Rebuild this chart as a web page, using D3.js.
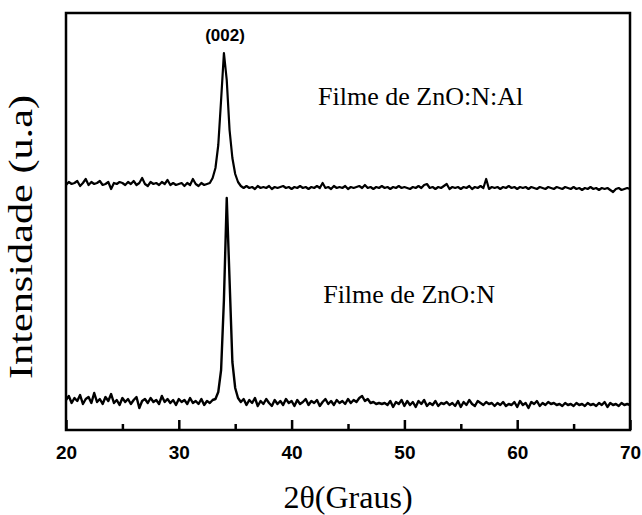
<!DOCTYPE html>
<html>
<head>
  <meta charset="utf-8">
  <style>
    body { margin: 0; background: #fff; }
    svg { display: block; }
  </style>
</head>
<body>
<svg id="xrd" width="642" height="515"></svg>
<script src="https://d3js.org/d3.v7.min.js"></script>
<script>
// scan: 20 -> 70 deg, step 0.25
var thetaStart = 20, thetaStep = 0.25;

// ZnO:N:Al film (top trace, already offset)
var znoNAl = [
  245,248,246,247,249,244,247,251,245,248,246,247,249,245,246,248,241,247,246,248,
  247,245,248,246,249,245,247,252,246,244,248,246,247,245,248,246,250,245,247,245,
  246,247,244,247,245,251,246,244,247,245,246,247,252,262,285,330,377,350,300,272,
  256,248,244,242,244,242,243,241,244,242,243,242,244,241,243,242,243,244,242,243,
  241,243,242,244,242,243,241,243,242,244,242,247,242,243,241,244,242,243,242,244,
  241,243,242,243,244,242,245,242,243,241,243,242,244,242,243,241,243,242,244,242,
  243,242,241,243,242,244,242,245,246,242,243,241,243,242,244,246,241,243,242,243,
  241,243,242,244,241,243,242,244,242,251,241,243,242,243,241,243,242,244,242,243,
  241,243,242,243,241,243,242,241,243,242,241,243,242,241,243,242,241,243,242,241,
  243,241,242,240,242,241,243,241,242,240,242,241,242,240,238,241,242,240,241,242,
  241
];

// ZnO:N film (bottom trace)
var znoN = [
  30,34,27,32,29,35,26,31,33,27,37,28,31,26,33,29,36,27,30,25,
  32,28,31,26,30,33,22,29,31,27,32,28,30,26,34,28,31,27,30,25,
  31,28,30,26,32,27,29,26,31,25,29,27,30,31,38,60,130,232,150,68,
  42,32,28,31,25,30,27,32,24,29,26,31,27,24,30,26,29,25,31,27,
  29,24,30,26,28,31,25,29,27,30,24,28,31,26,29,25,30,27,29,26,
  31,27,30,28,32,34,29,31,27,28,26,27,26,27,25,29,23,28,26,30,
  24,29,25,28,23,29,26,30,24,27,25,29,24,27,26,28,25,27,24,29,
  23,28,25,30,26,24,29,27,25,28,26,27,24,27,25,28,24,26,25,28,
  23,29,25,27,22,28,26,29,24,27,25,28,26,27,25,26,24,27,25,26,
  24,27,25,26,24,27,25,26,24,27,25,28,23,27,25,26,24,27,25,26,
  25
];

var majorTicks = [20, 30, 40, 50, 60, 70];
var minorTicks = [25, 35, 45, 55, 65];

var peakLabel = {text: "(002)", theta: 34.1, value: 389};
var filmLabels = [
  {text: "Filme de ZnO:N:Al", theta: 42.35, value: 325},
  {text: "Filme de ZnO:N", theta: 42.8, value: 127}
];

var margin = {top: 13, right: 12, bottom: 85, left: 66},
    width = 642 - margin.left - margin.right,
    height = 515 - margin.top - margin.bottom;

var svg = d3.select("#xrd");
var g = svg.append("g")
    .attr("transform", "translate(" + margin.left + "," + margin.top + ")");

var x = d3.scaleLinear().domain([20, 70]).range([0, width]);
var y = d3.scaleLinear().domain([0, 417]).range([height, 0]);

function toPoints(arr) {
  return arr.map(function(v, i) { return [thetaStart + i * thetaStep, v]; });
}

var line = d3.line()
    .x(function(d) { return x(d[0]); })
    .y(function(d) { return y(d[1]); });

g.selectAll(".trace")
    .data([znoN, znoNAl])
  .enter().append("path")
    .attr("class", "trace")
    .attr("d", function(d) { return line(toPoints(d)); })
    .attr("fill", "none")
    .attr("stroke", "#000")
    .attr("stroke-width", function(d, i) { return i == 0 ? 2.4 : 2.2; })
    .attr("stroke-linejoin", "round");

// ticks point inward
var xMajor = d3.axisBottom(x).tickValues(majorTicks).tickSize(-10).tickPadding(16)
    .tickFormat(d3.format("d"));
var xMinor = d3.axisBottom(x).tickValues(minorTicks).tickSize(-6).tickFormat("");

g.append("g").attr("transform", "translate(0," + height + ")").call(xMinor)
  .call(function(s) { s.select(".domain").remove(); })
  .selectAll("line").attr("stroke-width", 2.5);

var ax = g.append("g").attr("transform", "translate(0," + height + ")").call(xMajor);
ax.select(".domain").remove();
ax.selectAll("line").attr("stroke-width", 2.5);
ax.selectAll("text")
    .style("font-family", "'Liberation Sans', Arial, sans-serif")
    .style("font-weight", "bold")
    .style("font-size", "19px")
    .attr("fill", "#000");

// frame
g.append("rect")
    .attr("width", width)
    .attr("height", height)
    .attr("fill", "none")
    .attr("stroke", "#000")
    .attr("stroke-width", 2.5);

g.append("text")
    .attr("x", x(peakLabel.theta))
    .attr("y", y(peakLabel.value))
    .attr("text-anchor", "middle")
    .style("font-family", "'Liberation Sans', Arial, sans-serif")
    .style("font-weight", "bold")
    .style("font-size", "17px")
    .text(peakLabel.text);

g.selectAll(".film")
    .data(filmLabels)
  .enter().append("text")
    .attr("class", "film")
    .attr("x", function(d) { return x(d.theta); })
    .attr("y", function(d) { return y(d.value); })
    .attr("text-anchor", "start")
    .style("font-family", "'Liberation Serif', 'Times New Roman', serif")
    .style("font-size", "26px")
    .text(function(d) { return d.text; });

svg.append("text")
    .attr("x", margin.left + width / 2)
    .attr("y", 508)
    .attr("text-anchor", "middle")
    .style("font-family", "'Liberation Serif', 'Times New Roman', serif")
    .style("font-size", "32px")
    .text("2θ(Graus)");

svg.append("text")
    .attr("transform", "translate(32," + 237 + ") rotate(-90)")
    .attr("text-anchor", "middle")
    .attr("textLength", 284)
    .attr("lengthAdjust", "spacingAndGlyphs")
    .style("font-family", "'Liberation Serif', 'Times New Roman', serif")
    .style("font-size", "34px")
    .text("Intensidade (u.a)");
</script>
</body>
</html>
